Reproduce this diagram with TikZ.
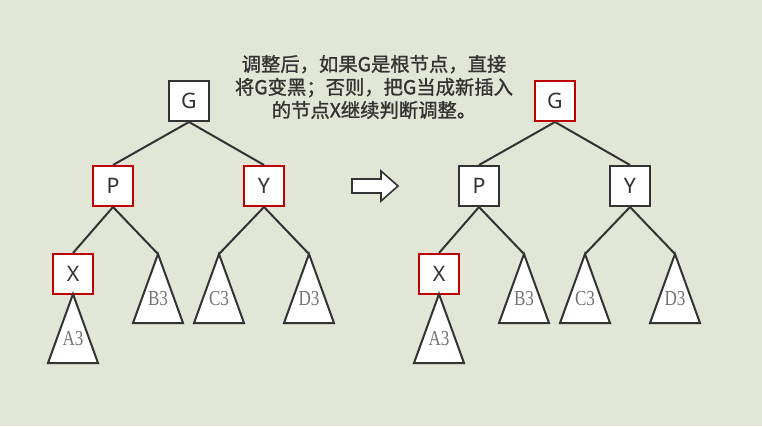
\documentclass[tikz,border=0pt]{standalone}
\usepackage{fontspec}
\setmainfont{Liberation Serif}
\setsansfont{Noto Sans}
\newfontfamily\cjk[FakeBold=1.2]{Noto Sans CJK SC}
\newfontfamily\narrowserif[FakeStretch=0.8]{Liberation Serif}
\definecolor{bg}{HTML}{E2E6D6}
\definecolor{ink}{HTML}{333333}
\definecolor{redline}{HTML}{C00000}
\tikzset{
  box/.style={draw=ink,fill=white,line width=1.5pt,minimum size=30pt,inner sep=0pt,
    font=\sffamily\fontsize{16}{16}\selectfont,text=ink},
  redbox/.style={box,draw=redline},
  edge/.style={draw=ink,line width=1.5pt},
  tri/.style={draw=ink,fill=white,line width=1.5pt,line join=miter},
  trilabel/.style={font=\narrowserif\fontsize{16}{16}\selectfont,text=black!55}
}
\begin{document}
\begin{tikzpicture}[x=0.75pt,y=-0.75pt]
\fill[bg] (0,0) rectangle (762,426);
\useasboundingbox (0,0) rectangle (762,426);

% note
\node[font=\cjk\fontsize{14.5}{17.25}\selectfont,text=ink,align=center] (note) at (374,87)
  {调整后，如果G是根节点，直接\\将G变黑；否则，把G当成新插入\\的节点X继续判断调整。};

% left tree
\node[box] (G1) at (189,101) {G};
\node[redbox] (P1) at (113,186) {P};
\node[redbox] (Y1) at (264,186) {Y};
\node[redbox] (X1) at (73,274) {X};

% right tree
\node[redbox] (G2) at (555,101) {G};
\node[box] (P2) at (479,186) {P};
\node[box] (Y2) at (630,186) {Y};
\node[redbox] (X2) at (439,274) {X};

% subtrees
\foreach \name/\x/\y/\lbl in {a1/73/294/A3,b1/158/254/B3,c1/219/254/C3,d1/309/254/D3,
                              a2/439/294/A3,b2/524/254/B3,c2/585/254/C3,d2/675/254/D3}{
  \draw[tri] (\x,\y) coordinate (\name) -- ++(-25,69) -- ++(50,0) -- cycle;
  \node[trilabel] at (\x,\y+45) {\lbl};
}

\foreach \i in {1,2}{
  \draw[edge] (G\i.south) -- (P\i.north);
  \draw[edge] (G\i.south) -- (Y\i.north);
  \draw[edge] (P\i.south) -- (X\i.north);
  \draw[edge] (P\i.south) -- (b\i);
  \draw[edge] (Y\i.south) -- (c\i);
  \draw[edge] (Y\i.south) -- (d\i);
}

% arrow
\draw[tri,line width=1.2pt] (352,179) -- (381,179) -- (381,171) -- (398,186) -- (381,201)
  -- (381,193) -- (352,193) -- cycle;
\end{tikzpicture}
\end{document}
